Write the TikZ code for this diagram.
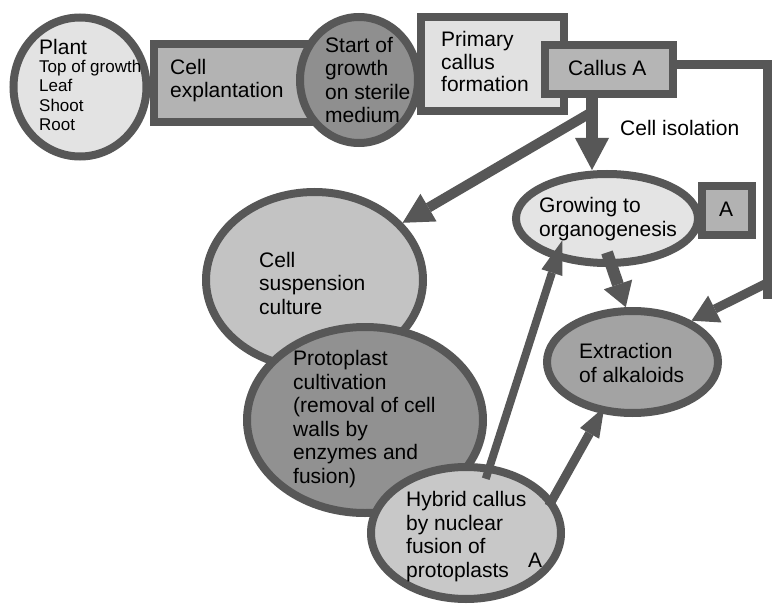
\documentclass[tikz,border=0pt]{standalone}
\usepackage{fontspec}
\setmainfont{Liberation Sans}
\usetikzlibrary{arrows.meta,shapes.geometric,calc}
\definecolor{bordc}{HTML}{575757}
\definecolor{cplant}{HTML}{E3E3E3}
\definecolor{cexpl}{HTML}{B3B3B3}
\definecolor{cstart}{HTML}{8F8F8F}
\definecolor{cprim}{HTML}{E1E1E1}
\definecolor{ccal}{HTML}{B5B5B5}
\definecolor{csusp}{HTML}{C3C3C3}
\definecolor{cproto}{HTML}{919191}
\definecolor{chyb}{HTML}{C8C8C8}
\definecolor{cabox}{HTML}{B2B2B2}
\definecolor{cgrow}{HTML}{E4E4E4}
\definecolor{cext}{HTML}{A3A3A3}
\tikzset{
  bd/.style={draw=bordc, line width=8pt, inner sep=0pt},
  ell/.style={bd, ellipse},
  rect/.style={bd, rectangle, line join=miter},
  txt/.style={font=\fontsize{21}{23.5}\selectfont, align=left, inner sep=0pt, anchor=base west, text=black},
  txtS/.style={font=\fontsize{17}{19.5}\selectfont, align=left, inner sep=0pt, anchor=base west, text=black},
  conn/.style={draw=bordc, line width=#1, line cap=butt, line join=miter},
  tip/.style n args={2}{-{Triangle[length=#1, width=#2, line width=0pt]}},
}
\begin{document}
\begin{tikzpicture}[x=1pt,y=-1pt]
\useasboundingbox (0,0) rectangle (774,607);
\fill[white] (0,0) rectangle (774,607);

% top row
\node[rect, fill=cexpl, minimum width=166pt, minimum height=78pt] (expl) at (237,83) {};
\node[ell, fill=cplant, minimum width=133pt, minimum height=139pt] (plant) at (80,87) {};
\node[ell, fill=cstart, minimum width=118pt, minimum height=126pt] (start) at (359,80) {};
\node[rect, fill=cprim, minimum width=143pt, minimum height=94pt] (prim) at (492.5,64) {};
\node[rect, fill=ccal, minimum width=128pt, minimum height=49pt] (calA) at (609,69.5) {};

% lower shapes
\node[ell, fill=csusp, minimum width=217pt, minimum height=176pt] (susp) at (314.5,280) {};
\node[ell, fill=cproto, minimum width=236pt, minimum height=186pt] (proto) at (365,420) {};
\node[ell, fill=chyb, minimum width=190pt, minimum height=132pt] (hyb) at (466,533) {};
\node[rect, fill=cabox, minimum width=50pt, minimum height=49pt] (abox) at (727,210.5) {};
\node[ell, fill=cgrow, minimum width=182pt, minimum height=89pt] (grow) at (607,218.5) {};
\node[ell, fill=cext, minimum width=171pt, minimum height=102pt] (ext) at (632.5,362) {};

% connectors
\coordinate (isoTop) at (592,96);
\coordinate (split) at (592,112);
\coordinate (rr1) at (767,65);
\coordinate (rr2) at (767,299);
\coordinate (rr3) at (767,283);

\draw[conn=12pt, tip={32pt}{34pt}] (isoTop) -- (isoTop |- grow.north);
\draw[conn=10pt, tip={30pt}{32pt}] (split) -- (susp.33);
\draw[conn=9pt] (calA.east |- rr1) -- (rr1) -- (rr2);
\draw[conn=9pt, tip={26pt}{30pt}] (rr3) -- (ext.35);
\draw[conn=12pt, tip={24pt}{30pt}] ($(grow.south)!0.3!(grow.center)$) -- (ext.97);
\draw[conn=8pt, tip={34pt}{22pt}] ($(hyb.center)!0.8!(hyb.70)$) -- ($(grow.center)!0.65!(grow.206)$);
\draw[conn=9pt, tip={30pt}{22pt}] ($(hyb.center)!0.92!(hyb.18)$) -- ($(ext.center)!0.88!(ext.238)$);

% texts (anchor = baseline of the last line)
\node[txt, font=\fontsize{21}{23}\selectfont] (tPlant) at (39,55) {Plant};
\node[txtS] (tParts) at (39,131) {Top of growth\\Leaf\\Shoot\\Root};
\node[txt] (tExpl) at (170,98) {Cell\\explantation};
\node[txt] (tStart) at (325,123) {Start of\\growth\\on sterile\\medium};
\node[txt, font=\fontsize{21}{22.5}\selectfont] (tPrim) at (441,92) {Primary\\callus\\formation};
\node[txt] (tCal) at (568,76) {Callus A};
\node[txt] (tIso) at (620,136) {Cell isolation};
\node[txt] (tGrow) at (539,236) {Growing to\\organogenesis};
\node[txt] (tA1) at (719,216) {A};
\node[txt] (tExt) at (579,382) {Extraction\\of alkaloids};
\node[txt] (tSusp) at (259,314) {Cell\\suspension\\culture};
\node[txt] (tProto) at (293,483) {Protoplast\\cultivation\\(removal of cell\\walls by\\enzymes and\\fusion)};
\node[txt] (tHyb) at (406,577) {Hybrid callus\\by nuclear\\fusion of\\protoplasts};
\node[txt] (tA2) at (528,567) {A};
\end{tikzpicture}
\end{document}
